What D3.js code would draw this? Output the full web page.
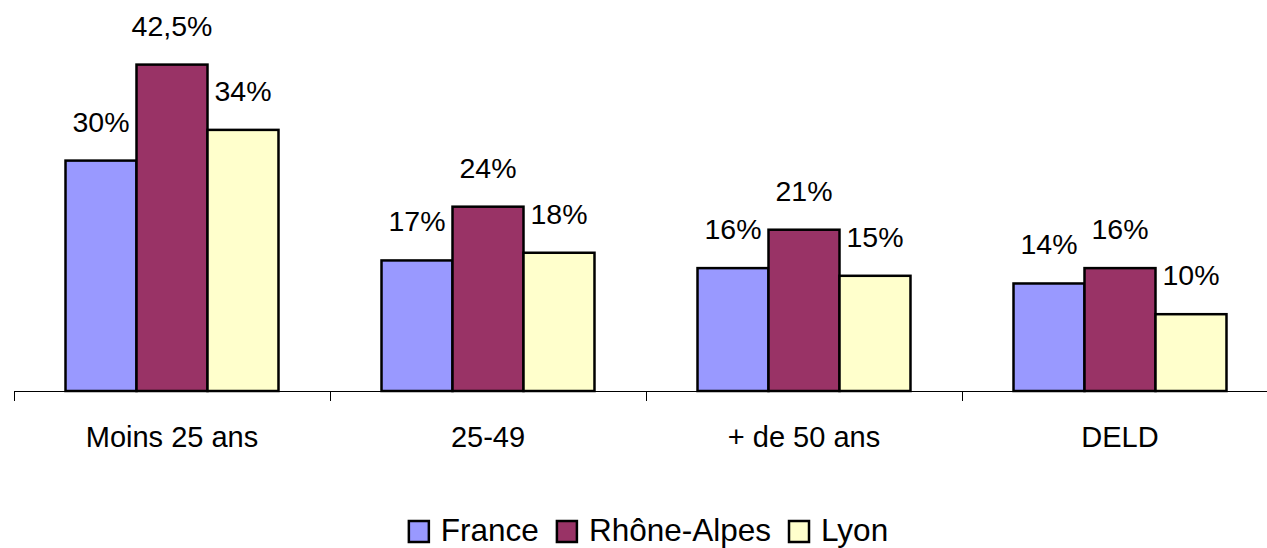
<!DOCTYPE html>
<html>
<head>
<meta charset="utf-8">
<script src="https://cdn.jsdelivr.net/npm/d3@7"></script>
<style>
  body { margin: 0; background: #fff; }
  text { font-family: "Liberation Sans", Arial, sans-serif; fill: #000; }
</style>
</head>
<body>
<svg id="chart" width="1267" height="548"></svg>
<script>
const categories = ["Moins 25 ans", "25-49", "+ de 50 ans", "DELD"];
const series = ["France", "Rhône-Alpes", "Lyon"];
const colors = ["#9999FF", "#993366", "#FFFFCC"];
const france = [30, 17, 16, 14];
const rhoneAlpes = [42.5, 24, 21, 16];
const lyon = [34, 18, 15, 10];
const labels = [
    ["30%", "17%", "16%", "14%"],
    ["42,5%", "24%", "21%", "16%"],
    ["34%", "18%", "15%", "10%"]
];

const values = [france, rhoneAlpes, lyon];
const svg = d3.select("#chart");

const baseY = 391;
const left = 14, step = 316;

let x = d3.scaleBand()
    .domain(categories)
    .range([left, left + step * categories.length])
    .paddingInner(0.326)
    .paddingOuter(0.163);

let xs = d3.scaleBand()
    .domain(series)
    .range([0, x.bandwidth()]);

let y = d3.scaleLinear()
    .domain([0, 50])
    .range([baseY, baseY - 384]);

// bars
series.forEach((s, si) => {
    let g = svg.append("g").attr("class", "series");
    g.selectAll("rect")
        .data(values[si])
        .enter().append("rect")
        .attr("x", (d, i) => x(categories[i]) + xs(s))
        .attr("y", d => y(d))
        .attr("width", xs.bandwidth())
        .attr("height", d => baseY - y(d))
        .style("fill", colors[si])
        .style("stroke", "#000")
        .style("stroke-width", 2.5);

    g.selectAll("text")
        .data(values[si])
        .enter().append("text")
        .attr("x", (d, i) => x(categories[i]) + xs(s) + xs.bandwidth() / 2)
        .attr("y", d => y(d) - 29)
        .attr("text-anchor", "middle")
        .style("font-size", "28.5px")
        .text((d, i) => labels[si][i]);
});

// axis
svg.append("line")
    .attr("x1", left).attr("x2", 1267)
    .attr("y1", baseY + 0.5).attr("y2", baseY + 0.5)
    .style("stroke", "#000").style("stroke-width", 1);

svg.selectAll("line.tick")
    .data(d3.range(categories.length + 1))
    .enter().append("line")
    .attr("class", "tick")
    .attr("x1", i => left + i * step + 0.5)
    .attr("x2", i => left + i * step + 0.5)
    .attr("y1", baseY)
    .attr("y2", baseY + 10)
    .style("stroke", "#000").style("stroke-width", 1);

svg.selectAll("text.cat")
    .data(categories)
    .enter().append("text")
    .attr("class", "cat")
    .attr("x", d => x(d) + x.bandwidth() / 2)
    .attr("y", 447)
    .attr("text-anchor", "middle")
    .style("font-size", "29px")
    .text(d => d);

// legend
let legend = svg.append("g");
let lx = 0;
series.forEach((s, si) => {
    let item = legend.append("g").attr("transform", `translate(${lx},0)`);
    item.append("rect")
        .attr("x", 1).attr("y", 521)
        .attr("width", 20).attr("height", 21)
        .style("fill", colors[si])
        .style("stroke", "#000")
        .style("stroke-width", 2.5);
    let t = item.append("text")
        .attr("x", 33).attr("y", 541)
        .style("font-size", "31.5px")
        .text(s);
    lx += 33 + t.node().getComputedTextLength() + 17;
});
let legendW = lx - 17;
legend.attr("transform", `translate(${648 - legendW / 2},0)`);
</script>
</body>
</html>
